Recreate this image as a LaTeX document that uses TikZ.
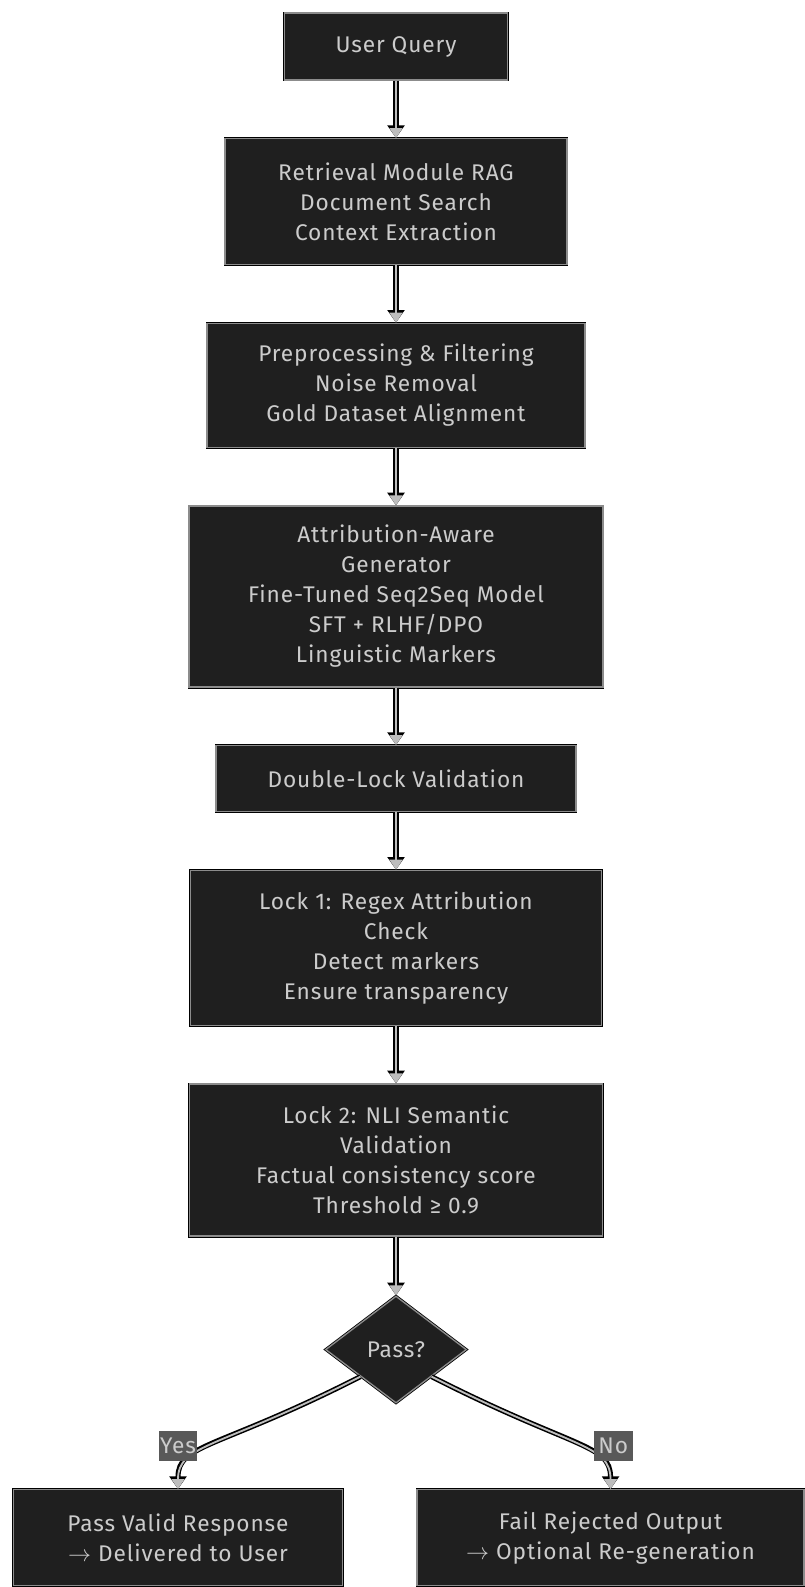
\documentclass[tikz,border=0pt]{standalone}
\usepackage{fontspec}
\setmainfont{Fira Sans}[LetterSpace=4]
\usetikzlibrary{arrows.meta,positioning,shapes.geometric}
\definecolor{boxfill}{HTML}{1F1F1F}
\definecolor{boxline}{HTML}{8C8C8C}
\definecolor{boxtext}{HTML}{CCCCCC}
\definecolor{wiregray}{HTML}{BDBDBD}
\definecolor{tagfill}{HTML}{595959}

\begin{document}
\begin{tikzpicture}[node distance=43pt, every node/.style={font=\fontsize{17}{22.5}\selectfont},
    stage/.style={rectangle,fill=boxfill,draw=boxline,line width=1pt,text=boxtext,align=center,inner sep=0pt,preaction={draw=black,line width=2.2pt}},
    gate/.style={diamond,fill=boxfill,draw=boxline,line width=1pt,text=boxtext,inner sep=0pt,minimum width=105.75pt,minimum height=80.25pt,preaction={draw=black,line width=2.2pt}},
    wire/.style={draw=wiregray,line width=1.4pt,-{Triangle[length=7.5pt,width=9.5pt]},preaction={draw=black,line width=3.8pt,-{Triangle[length=9.5pt,width=12.5pt]}}},
    tag/.style={fill=tagfill,text=boxtext,inner sep=1pt,minimum width=29pt,minimum height=22.5pt}]
    \useasboundingbox (0,0) rectangle (603pt,-1190.25pt);
    \node[stage,minimum width=167.25pt,minimum height=50.25pt] (uq) at (297pt,-34.9pt) {User Query};
    \node[stage,minimum width=256.5pt,minimum height=94.5pt,below=of uq] (ret) {Retrieval Module RAG\\Document Search\\Context Extraction};
    \node[stage,minimum width=283.5pt,minimum height=93pt,below=of ret] (pre) {Preprocessing \& Filtering\\Noise Removal\\Gold Dataset Alignment};
    \node[stage,minimum width=310.5pt,minimum height=135.75pt,below=of pre] (gen) {Attribution-Aware\\Generator\\Fine-Tuned Seq2Seq Model\\SFT + RLHF/DPO\\Linguistic Markers};
    \node[stage,minimum width=270pt,minimum height=49.5pt,below=of gen] (dbl) {Double-Lock Validation};
    \node[stage,minimum width=308.25pt,minimum height=116.25pt,below=of dbl] (lk1) {Lock 1: Regex Attribution\\Check\\Detect markers\\Ensure transparency};
    \node[stage,minimum width=309.75pt,minimum height=114pt,below=of lk1] (lk2) {Lock 2: NLI Semantic\\Validation\\Factual consistency score\\Threshold ≥ 0.9};
    \node[gate,below=44pt of lk2] (dec) {Pass?};
    \node[stage,minimum width=246.75pt,minimum height=72pt,below=64pt of dec,xshift=-163.5pt] (ok) {Pass Valid Response\\$\rightarrow$ Delivered to User};
    \node[stage,minimum width=290.25pt,minimum height=72pt,below=64pt of dec,xshift=160.9pt] (fail) {Fail Rejected Output\\$\rightarrow$ Optional Re-generation};
    \draw[wire] (uq)--(ret);
    \draw[wire] (ret)--(pre);
    \draw[wire] (pre)--(gen);
    \draw[wire] (gen)--(dbl);
    \draw[wire] (dbl)--(lk1);
    \draw[wire] (lk1)--(lk2);
    \draw[wire] (lk2)--(dec);
    \draw[wire] (dec.south west) .. controls +(207:120pt) and +(90:34pt) .. (ok.north);
    \draw[wire] (dec.south east) .. controls +(-27:120pt) and +(90:34pt) .. (fail.north);
    \node[tag,above=21pt of ok] (yes) {Yes};
    \node[tag,above=21pt of fail,xshift=2pt] (no) {No};
  \end{tikzpicture}
\end{document}
